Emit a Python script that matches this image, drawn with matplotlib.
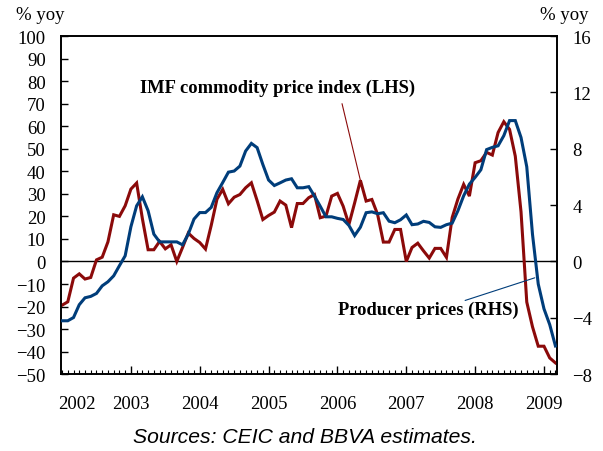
import matplotlib
matplotlib.use("Agg")
import matplotlib.pyplot as plt
from matplotlib.ticker import MultipleLocator, FixedLocator
import numpy as np

# Monthly index, Jan 2002 .. Mar 2009
months = list(range(87))

# IMF commodity price index, % yoy (LHS)
imf_commodity = [
    -19.4, -17.9, -7.4, -5.5, -7.8, -7.1, 0.7, 1.9, 8.7, 20.7, 20.0, 24.7,
    32.1, 34.8, 19.0, 5.2, 5.2, 8.9, 5.6, 7.4, 0.0, 6.2, 12.6, 10.2,
    8.4, 5.5, 16.0, 27.6, 32.0, 25.6, 28.5, 29.7, 32.7, 34.9, 27.0, 18.6,
    20.4, 21.9, 26.8, 25.0, 15.0, 25.7, 25.7, 28.3, 29.7, 19.4, 20.1, 29.0,
    30.2, 24.5, 16.4, 26.0, 36.0, 26.8, 27.5, 20.9, 8.6, 8.6, 14.2, 14.2,
    0.0, 6.2, 8.1, 4.7, 1.5, 5.8, 5.8, 1.8, 19.5, 27.7, 34.2, 29.0,
    43.8, 44.7, 48.4, 47.2, 57.2, 62.0, 58.6, 46.7, 22.0, -18.0, -29.0, -37.6,
    -37.6, -42.8, -45.0,
]

# Producer prices, % yoy (RHS)
producer_prices = [
    -4.21, -4.21, -3.98, -3.07, -2.58, -2.48, -2.27, -1.73, -1.44, -1.02, -0.30, 0.40,
    2.46, 3.95, 4.59, 3.60, 1.94, 1.39, 1.39, 1.39, 1.39, 1.18, 1.94, 3.01,
    3.47, 3.47, 3.84, 4.88, 5.60, 6.34, 6.42, 6.77, 7.84, 8.38, 8.08, 6.88,
    5.78, 5.39, 5.58, 5.78, 5.87, 5.23, 5.23, 5.31, 4.64, 3.92, 3.17, 3.17,
    3.06, 2.98, 2.56, 1.84, 2.43, 3.46, 3.52, 3.39, 3.46, 2.86, 2.75, 2.96,
    3.30, 2.61, 2.66, 2.85, 2.77, 2.46, 2.42, 2.61, 2.72, 3.60, 4.66, 5.49,
    5.97, 6.51, 7.94, 8.10, 8.21, 8.93, 10.0, 10.0, 8.80, 6.72, 1.92, -1.60,
    -3.36, -4.48, -6.00,
]

year_labels = ["2002", "2003", "2004", "2005", "2006", "2007", "2008", "2009"]
year_label_pos = [2.6, 12, 24, 36, 48, 60, 72, 84]
year_major_ticks = [12, 24, 36, 48, 60, 72, 84]

RED = "#8B0A0A"
BLUE = "#003D7A"
SERIF = ["Liberation Serif", "DejaVu Serif"]
TICK_FS = 13.5

fig = plt.figure(figsize=(6.03, 4.52), dpi=100)
ax = fig.add_axes([0.101, 0.170, 0.823, 0.748])
ax2 = ax.twinx()

ax.axhline(0, color="black", lw=1.0, zorder=1)
ax.plot(months, imf_commodity, color=RED, lw=2.2, zorder=3, solid_joinstyle="miter")
ax2.plot(months, producer_prices, color=BLUE, lw=2.2, zorder=3, solid_joinstyle="miter")

ax.set_xlim(-0.2, 86.3)
ax.set_ylim(-50, 100)
ax2.set_ylim(-8, 16)

ax.yaxis.set_major_locator(MultipleLocator(10))
ax2.yaxis.set_major_locator(MultipleLocator(4))

ax.xaxis.set_major_locator(FixedLocator(year_major_ticks))
ax.xaxis.set_minor_locator(MultipleLocator(1))
ax.set_xticklabels([])
for p, lab in zip(year_label_pos, year_labels):
    ax.text(p, -0.062, lab, transform=ax.get_xaxis_transform(), ha="center", va="top",
            fontsize=TICK_FS, family=SERIF)

ax.tick_params(axis="x", which="major", direction="in", length=6, width=1.0)
ax.tick_params(axis="x", which="minor", direction="in", length=3, width=0.8)
ax.tick_params(axis="y", direction="in", length=5, width=1.0, labelsize=TICK_FS, pad=11)
ax2.tick_params(axis="y", direction="in", length=5, width=1.0, labelsize=TICK_FS, pad=11)
for lab in ax.get_yticklabels() + ax2.get_yticklabels():
    lab.set_family(SERIF)

for a in (ax, ax2):
    for s in a.spines.values():
        s.set_linewidth(1.2)
        s.set_color("black")

fig.text(0.027, 0.965, "% yoy", fontsize=TICK_FS, family=SERIF, ha="left", va="center")
fig.text(0.976, 0.965, "% yoy", fontsize=TICK_FS, family=SERIF, ha="right", va="center")

# Annotations
ax.text(0.4375, 0.849, "IMF commodity price index (LHS)", transform=ax.transAxes,
        ha="center", va="center", fontsize=13.3, fontweight="bold", family=SERIF)
ax.annotate("", xy=(52, imf_commodity[52]), xycoords="data",
            xytext=(0.5665, 0.800), textcoords="axes fraction",
            arrowprops=dict(arrowstyle="-", color=RED, lw=0.8, shrinkA=0, shrinkB=0))

ax2.text(0.74, 0.192, "Producer prices (RHS)", transform=ax2.transAxes,
         ha="center", va="center", fontsize=13.3, fontweight="bold", family=SERIF)
ax2.annotate("", xy=(82.4, -1.16), xycoords="data",
             xytext=(0.8145, 0.218), textcoords="axes fraction",
             arrowprops=dict(arrowstyle="-", color=BLUE, lw=0.8, shrinkA=0, shrinkB=0))

fig.text(0.506, 0.033, "Sources: CEIC and BBVA estimates.", fontsize=15.2, style="italic",
         family=["Liberation Sans", "DejaVu Sans"], ha="center", va="center")

fig.savefig("out.png", dpi=100)
